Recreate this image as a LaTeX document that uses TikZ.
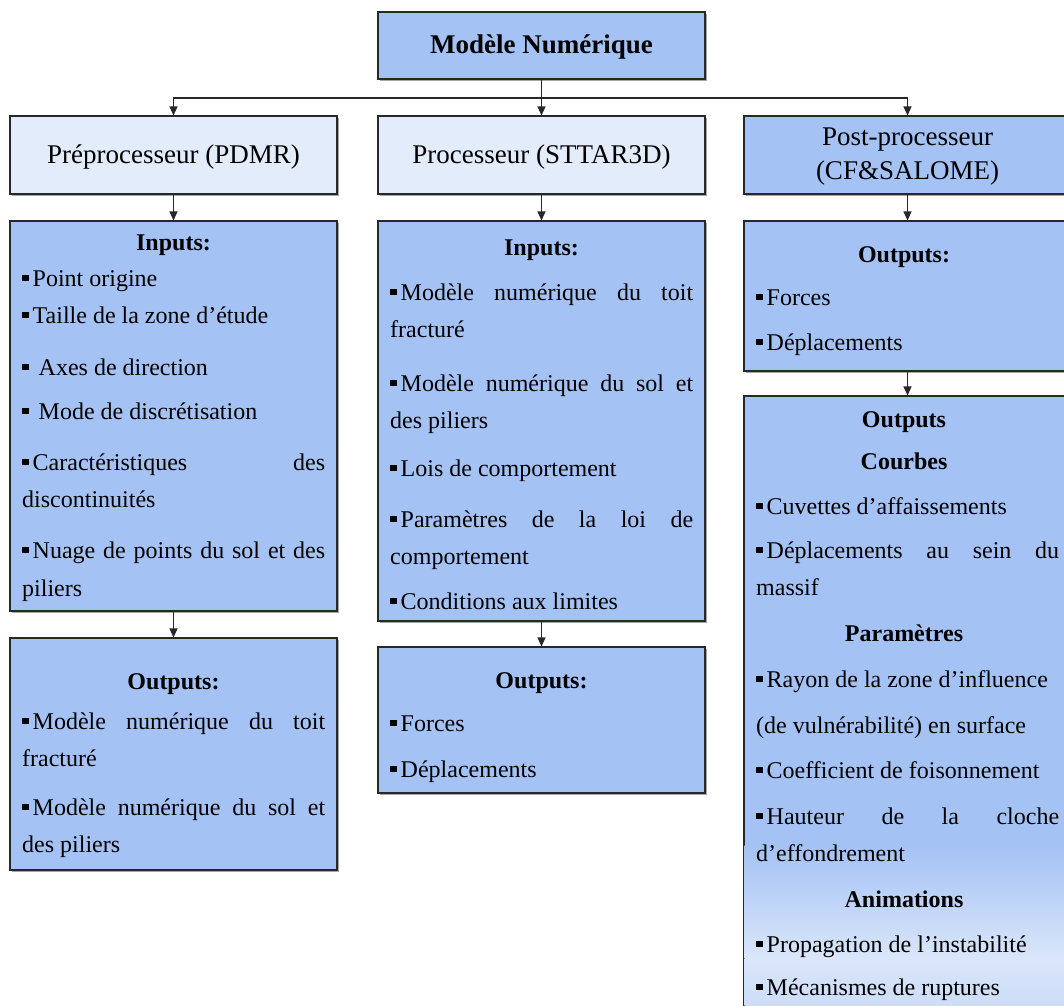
\documentclass[tikz,border=0pt]{standalone}
\usepackage{fontspec}
\setmainfont{Liberation Serif}
\usetikzlibrary{arrows.meta,shadows}
\definecolor{bluefill}{RGB}{164,194,244}
\definecolor{lightfill}{RGB}{227,236,251}
\definecolor{edgecol}{RGB}{40,40,40}
\newcommand\bul{\raisebox{5pt}{\rule{6.5pt}{6.5pt}}\hspace{4pt}}
\newcommand\jline[1]{\makebox[303pt][s]{#1}}
\begin{document}
\begin{tikzpicture}[x=1pt,y=-1pt,
  box/.style={draw=edgecol, line width=1.1pt, fill=bluefill, minimum width=327pt, inner sep=0pt,
    drop shadow={shadow xshift=2pt, shadow yshift=-2pt, opacity=0.35, fill=black}},
  lbox/.style={box, fill=lightfill},
  itm/.style={anchor=mid west, inner sep=0pt, yshift=-5pt, font=\fontsize{24}{29}\selectfont},
  hd/.style={anchor=mid, inner sep=0pt, yshift=-5pt, font=\fontsize{24}{29}\selectfont\bfseries},
  headtxt/.style={inner sep=0pt, align=center, font=\fontsize{27}{34}\selectfont},
  plainline/.style={draw=edgecol, line width=1.2pt},
  conn/.style={plainline, -{Triangle[width=8pt,length=9pt]}}]
\path[use as bounding box] (0,0) rectangle (1064,1005);
\begin{scope}
\clip (0,0) rectangle (1064,1005);
% boxes
\node[box, minimum height=67pt] (top) at (541.5,45.5) {};
\node[lbox, minimum height=78pt] (pre) at (173.5,155) {};
\node[lbox, minimum height=78pt] (proc) at (541.5,155) {};
\node[box, minimum height=78pt] (post) at (907.5,155) {};
\node[box, minimum height=390pt] (linp) at (173.5,416) {};
\node[box, minimum height=232pt] (lout) at (173.5,754) {};
\node[box, minimum height=400pt] (minp) at (541.5,421) {};
\node[box, minimum height=146pt] (mout) at (541.5,720) {};
\node[box, minimum height=150pt] (rout) at (907.5,296) {};
\node[box, minimum height=644pt] (rres) at (907.5,718) {};
\shade[top color=bluefill, bottom color=lightfill!85!bluefill] (744.6,845) rectangle (1070.4,958);
\shade[top color=lightfill!85!bluefill, bottom color=bluefill!50!lightfill] (744.6,958) rectangle (1070.4,1040);
\draw[draw=edgecol, line width=1.1pt] (rres.north west) -- (rres.south west);
% connectors
\coordinate (jn) at (541.5,98);
\draw[plainline] (top.south) -- (jn);
\draw[conn] (jn) -| (pre.north);
\draw[conn] (jn) -| (post.north);
\draw[conn] (top.south) -- (proc.north);
\draw[conn] (pre.south) -- (linp.north);
\draw[conn] (proc.south) -- (minp.north);
\draw[conn] (post.south) -- (rout.north);
\draw[conn] (linp.south) -- (lout.north);
\draw[conn] (minp.south) -- (mout.north);
\draw[conn] (rout.south) -- (rres.north);
% header texts
\node[inner sep=0pt, font=\fontsize{27}{32}\selectfont\bfseries] (ttop) at (541.5,47) {Modèle Numérique};
\node[headtxt] (tpre) at (173.5,157) {Préprocesseur (PDMR)};
\node[headtxt] (tproc) at (541.5,157) {Processeur (STTAR3D)};
\node[headtxt] (tpost) at (907.5,157) {Post-processeur\\(CF\&SALOME)};
% left inputs
\node[hd] (li0) at (173.5,243) {Inputs:};
\node[itm] (li1) at (22,279) {\bul Point origine};
\node[itm] (li2) at (22,316) {\bul Taille de la zone d’étude};
\node[itm] (li3) at (22,368) {\bul\ Axes de direction};
\node[itm] (li4) at (22,412) {\bul\ Mode de discrétisation};
\node[itm] (li5) at (22,463) {\jline{\bul Caractéristiques des}};
\node[itm] (li6) at (22,500) {discontinuités};
\node[itm] (li7) at (22,551) {\jline{\bul Nuage de points du sol et des}};
\node[itm] (li8) at (22,589) {piliers};
% left outputs
\node[hd] (lo0) at (173.5,682) {Outputs:};
\node[itm] (lo1) at (22,722) {\jline{\bul Modèle numérique du toit}};
\node[itm] (lo2) at (22,759) {fracturé};
\node[itm] (lo3) at (22,808) {\jline{\bul Modèle numérique du sol et}};
\node[itm] (lo4) at (22,845) {des piliers};
% middle inputs
\node[hd] (mi0) at (541.5,248) {Inputs:};
\node[itm] (mi1) at (390,293) {\jline{\bul Modèle numérique du toit}};
\node[itm] (mi2) at (390,330) {fracturé};
\node[itm] (mi3) at (390,384) {\jline{\bul Modèle numérique du sol et}};
\node[itm] (mi4) at (390,421) {des piliers};
\node[itm] (mi5) at (390,469) {\bul Lois de comportement};
\node[itm] (mi6) at (390,520) {\jline{\bul Paramètres de la loi de}};
\node[itm] (mi7) at (390,557) {comportement};
\node[itm] (mi8) at (390,602) {\bul Conditions aux limites};
% middle outputs
\node[hd] (mo0) at (541.5,681) {Outputs:};
\node[itm] (mo1) at (390,724) {\bul Forces};
\node[itm] (mo2) at (390,770) {\bul Déplacements};
% right outputs
\node[hd] (ro0) at (904,255) {Outputs:};
\node[itm] (ro1) at (756,298) {\bul Forces};
\node[itm] (ro2) at (756,343) {\bul Déplacements};
% right results
\node[hd] (r0) at (904,420) {Outputs};
\node[hd] (r1) at (904,462) {Courbes};
\node[itm] (r2) at (756,507) {\bul Cuvettes d’affaissements};
\node[itm] (r3) at (756,551) {\jline{\bul Déplacements au sein du}};
\node[itm] (r4) at (756,588) {massif};
\node[hd] (r5) at (904,634) {Paramètres};
\node[itm] (r6) at (756,680) {\bul Rayon de la zone d’influence};
\node[itm] (r7) at (756,726) {(de vulnérabilité) en surface};
\node[itm] (r8) at (756,771) {\bul Coefficient de foisonnement};
\node[itm] (r9) at (756,817) {\jline{\bul Hauteur de la cloche}};
\node[itm] (r10) at (756,854) {d’effondrement};
\node[hd] (r11) at (904,900) {Animations};
\node[itm] (r12) at (756,945) {\bul Propagation de l’instabilité};
\node[itm] (r13) at (756,988) {\bul Mécanismes de ruptures};
\end{scope}
\end{tikzpicture}
\end{document}
